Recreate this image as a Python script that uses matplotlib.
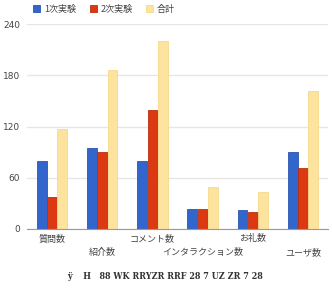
import matplotlib
matplotlib.use("Agg")
import matplotlib.pyplot as plt
import numpy as np

plt.rcParams['font.family'] = ['Noto Sans CJK JP', 'DejaVu Sans']

categories = ["質問数", "紹介数", "コメント数", "インタラクション数", "お礼数", "ユーザ数"]
series_names = ["1次実験", "2次実験", "合計"]
first = [80, 95, 80, 24, 22, 90]
second = [37, 90, 139, 24, 20, 72]
total = [117, 186, 220, 49, 43, 162]
yticks = [0, 60, 120, 180, 240]
title_text = "ÿ    H   88 WK RRYZR RRF 28 7 UZ ZR 7 28"

colors = ["#3366cc", "#dc3912", "#fde49e"]
edges = ["#2a55b0", "#b82f0e", "#f5d98a"]

fig = plt.figure(figsize=(3.32, 2.90), dpi=100)
ax = fig.add_axes([27 / 332, 1 - 229 / 290, 301 / 332, 205 / 290])

x = np.arange(len(categories))
w = 0.205
for i, vals in enumerate([first, second, total]):
    ax.bar(x + (i - 1) * w, vals, width=w * 0.95, color=colors[i],
           edgecolor=edges[i], linewidth=0.6, label=series_names[i], zorder=3)

ax.set_xlim(-0.5, len(categories) - 0.5)
ax.set_ylim(0, 240)
ax.set_yticks(yticks)
ax.set_yticklabels([str(v) for v in yticks], fontsize=6.5, color="#444444",
                   family="DejaVu Sans")
ax.tick_params(axis="y", length=0, pad=5)
ax.yaxis.grid(True, color="#e6e6e6", linewidth=1, zorder=0)
for s in ["top", "right", "left"]:
    ax.spines[s].set_visible(False)
ax.spines["bottom"].set_color("#999999")
ax.spines["bottom"].set_zorder(4)

ax.set_xticks(x)
ax.set_xticklabels([])
ax.tick_params(axis="x", length=0)
for i, c in enumerate(categories):
    yoff = -7 if i % 2 == 0 else -17
    ax.annotate(c, (i, 0), xytext=(0, yoff), textcoords="offset points",
                ha="center", va="center", fontsize=6.5, color="#444444",
                annotation_clip=False)

leg = fig.legend(loc="upper left", bbox_to_anchor=(25 / 332, 1.012), ncol=3,
                 frameon=False, fontsize=6.5, handlelength=0.8, handleheight=0.8,
                 columnspacing=1.5, handletextpad=0.4)
for t in leg.get_texts():
    t.set_color("#444444")

fig.text(165 / 332, 1 - 276 / 290, title_text, ha="center", va="center",
         fontsize=6.5, family="DejaVu Serif", fontweight="bold", color="#333333",
         fontstretch="condensed")

fig.savefig("out.png", dpi=100)
